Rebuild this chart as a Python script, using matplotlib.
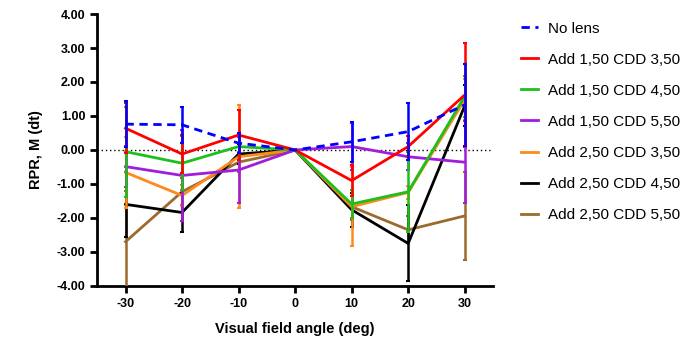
import matplotlib
matplotlib.use("Agg")
import matplotlib.pyplot as plt

plt.rcParams['font.family'] = ['Liberation Sans', 'DejaVu Sans']
plt.rcParams['axes.unicode_minus'] = False

angles = [-30, -20, -10, 0, 10, 20, 30]

labels = ["No lens", "Add 1,50 CDD 3,50", "Add 1,50 CDD 4,50", "Add 1,50 CDD 5,50",
          "Add 2,50 CDD 3,50", "Add 2,50 CDD 4,50", "Add 2,50 CDD 5,50"]

no_lens   = [0.76, 0.74, 0.20, 0.0, 0.24, 0.54, 1.33]
a150_350  = [0.64, -0.12, 0.44, 0.0, -0.90, 0.10, 1.62]
a150_450  = [-0.05, -0.39, 0.10, 0.0, -1.59, -1.23, 1.58]
a150_550  = [-0.49, -0.75, -0.59, 0.0, 0.10, -0.20, -0.36]
a250_350  = [-0.66, -1.34, -0.20, 0.0, -1.67, -1.25, 1.48]
a250_450  = [-1.60, -1.84, -0.12, 0.0, -1.76, -2.75, 1.30]
a250_550  = [-2.70, -1.23, -0.36, 0.0, -1.67, -2.35, -1.94]

sd_no_lens  = [0.68, 0.53, 0.30, 0.0, 0.59, 0.83, 1.20]
sd_a150_350 = [0.74, 0.56, 0.74, 0.0, 0.45, 0.30, 1.54]
sd_a150_450 = [1.32, 0.79, 0.30, 0.0, 0.42, 1.17, 0.60]
sd_a150_550 = [0.60, 1.35, 0.97, 0.0, 0.70, 0.40, 1.20]
sd_a250_350 = [1.05, 0.30, 1.52, 0.0, 1.17, 0.20, 0.60]
sd_a250_450 = [0.95, 0.56, 0.30, 0.0, 0.50, 1.12, 0.60]
sd_a250_550 = [1.50, 0.40, 0.30, 0.0, 0.40, 0.40, 1.30]

series = [no_lens, a150_350, a150_450, a150_550, a250_350, a250_450, a250_550]
sds = [sd_no_lens, sd_a150_350, sd_a150_450, sd_a150_550, sd_a250_350, sd_a250_450, sd_a250_550]
colors = ['#0000FF', '#FF0000', '#1DBF1D', '#A21CDB', '#FF8A1C', '#000000', '#9C6A2E']
styles = ['--', '-', '-', '-', '-', '-', '-']

fig = plt.figure(figsize=(6.8, 3.42), dpi=100)
ax = fig.add_axes([0.143, 0.164, 0.582, 0.795])

ax.axhline(0, color='black', linestyle=(0, (1, 2)), linewidth=1.0, zorder=1)

handles = [None] * len(series)
n = len(series)
for i in reversed(range(n)):
    z = 2 + (n - i)
    ax.errorbar(angles, series[i], yerr=sds[i], fmt='none', ecolor=colors[i],
                elinewidth=1.8, capsize=1.5, capthick=1.5, zorder=z)
    if styles[i] == '--':
        ln, = ax.plot(angles, series[i], color=colors[i], linewidth=2.0,
                      linestyle=(0, (3, 2)), zorder=z + 0.5)
    else:
        ln, = ax.plot(angles, series[i], color=colors[i], linewidth=2.0, zorder=z + 0.5)
    handles[i] = ln

ax.set_xlim(-35, 35)
ax.set_ylim(-4, 4)
ax.set_xticks(angles)
ax.set_yticks([-4, -3, -2, -1, 0, 1, 2, 3, 4])
ax.set_yticklabels([f"{v:.2f}" for v in [-4, -3, -2, -1, 0, 1, 2, 3, 4]])

for s in ['top', 'right']:
    ax.spines[s].set_visible(False)
for s in ['left', 'bottom']:
    ax.spines[s].set_linewidth(2.0)
ax.tick_params(axis='both', direction='out', width=2.0, length=5, labelsize=9)
for lab in ax.get_xticklabels() + ax.get_yticklabels():
    lab.set_fontweight('bold')

ax.set_xlabel("Visual field angle (deg)", fontsize=10.5, fontweight='bold', labelpad=9)
ax.set_ylabel("RPR, M (dt)", fontsize=10.5, fontweight='bold', labelpad=10)

fig.legend(handles, labels, loc='upper left', bbox_to_anchor=(0.757, 0.955),
           frameon=False, fontsize=11, handlelength=1.15, handletextpad=0.6,
           labelspacing=1.12, borderaxespad=0)

fig.savefig("out.png", dpi=100)
